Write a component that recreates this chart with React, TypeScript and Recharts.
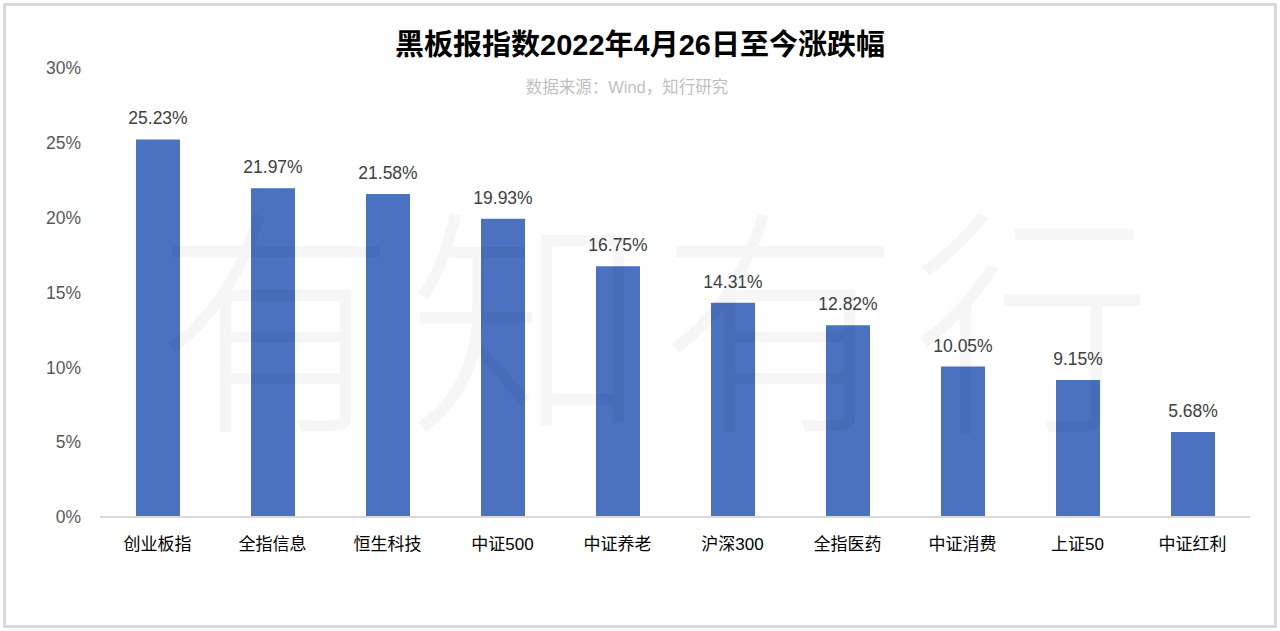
import React from 'react';
import { Bar, BarChart, LabelList, XAxis, YAxis } from 'recharts';

const categories = ['创业板指', '全指信息', '恒生科技', '中证500', '中证养老', '沪深300', '全指医药', '中证消费', '上证50', '中证红利'];
const returns = [25.23, 21.97, 21.58, 19.93, 16.75, 14.31, 12.82, 10.05, 9.15, 5.68];
const yTicks = [0, 5, 10, 15, 20, 25, 30];

const title = '黑板报指数2022年4月26日至今涨跌幅';
const source = '数据来源：Wind，知行研究';
const watermark = '有知有行';

const FONT = "Helvetica, 'Liberation Sans', 'Noto Sans CJK SC', sans-serif";

const data = categories.map((name, i) => ({ name, value: returns[i] }));

const App: React.FC = () => {
  return (
    <div
      style={{
        position: 'absolute',
        left: 0,
        top: 0,
        width: 1280,
        height: 631,
        background: '#fff',
        fontFamily: FONT,
        overflow: 'hidden'
      }}
    >
      <div
        style={{
          position: 'absolute',
          left: 3,
          top: 3,
          width: 1268,
          height: 619,
          border: '3px solid #d9d9d9'
        }}
      />
      <div
        style={{
          position: 'absolute',
          top: 26,
          width: '100%',
          textAlign: 'center',
          fontSize: 29,
          lineHeight: '38px',
          fontWeight: 700,
          color: '#000'
        }}
      >
        {title}
      </div>
      <div
        style={{
          position: 'absolute',
          top: 76,
          left: 0,
          width: 1254,
          textAlign: 'center',
          fontSize: 16.5,
          lineHeight: '22px',
          color: '#bfbfbf'
        }}
      >
        {source}
      </div>
      <BarChart
        width={1280}
        height={631}
        data={data}
        margin={{ top: 68, right: 30, bottom: 84, left: 20 }}
        style={{ position: 'absolute', left: 0, top: 0 }}
      >
        <XAxis
          dataKey="name"
          height={30}
          axisLine={{ stroke: '#d9d9d9', strokeWidth: 2 }}
          tickLine={false}
          tick={{ fill: '#000', fontSize: 17 }}
          tickMargin={15}
          interval={0}
        />
        <YAxis
          width={80}
          domain={[0, 30]}
          ticks={yTicks}
          axisLine={false}
          tickLine={false}
          tick={{ fill: '#595959', fontSize: 17.5 }}
          tickMargin={13}
          tickFormatter={(v: number) => `${v}%`}
        />
        <Bar dataKey="value" fill="#4a72c0" barSize={44} isAnimationActive={false}>
          <LabelList
            dataKey="value"
            position="top"
            offset={15}
            formatter={(v: number) => `${v.toFixed(2)}%`}
            style={{ fill: '#404040', fontSize: 17.5 }}
          />
        </Bar>
      </BarChart>
      <div
        style={{
          position: 'absolute',
          left: 140,
          top: 160,
          width: 1040,
          textAlign: 'center',
          whiteSpace: 'nowrap',
          fontSize: 240,
          lineHeight: '300px',
          fontWeight: 300,
          letterSpacing: 12,
          color: 'rgba(0,0,0,0.035)',
          pointerEvents: 'none',
          fontFamily: "'Noto Sans CJK SC', sans-serif"
        }}
      >
        {watermark}
      </div>
    </div>
  );
};

export default App;
